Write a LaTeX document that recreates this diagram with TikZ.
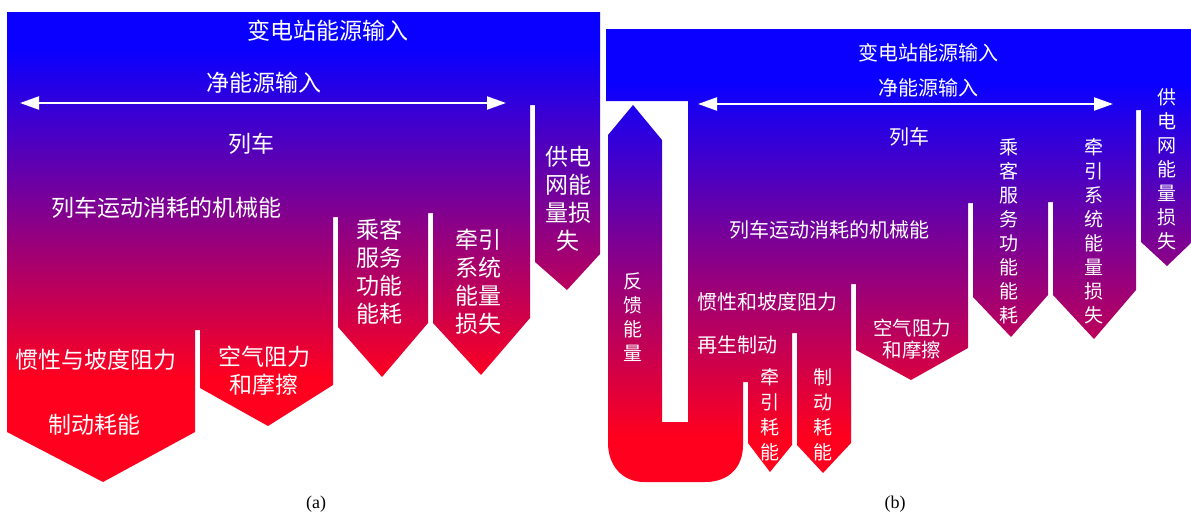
\documentclass[tikz,border=0pt]{standalone}
\usepackage{fontspec}
\setmainfont{Liberation Serif}
\newfontfamily\cjk{Noto Sans CJK SC}
\usetikzlibrary{arrows.meta}
\definecolor{sblue}{RGB}{10,0,255}
\definecolor{spurple}{RGB}{128,0,145}
\definecolor{sred}{RGB}{255,0,30}
\pgfdeclareverticalshading{sankeyA}{100bp}{color(0bp)=(sred); color(36bp)=(sred); color(54bp)=(spurple); color(71bp)=(sblue); color(100bp)=(sblue)}
\pgfdeclareverticalshading{sankeyB}{100bp}{color(0bp)=(sred); color(30bp)=(sred); color(51bp)=(spurple); color(69bp)=(sblue); color(100bp)=(sblue)}
\begin{document}
\begin{tikzpicture}[x=1pt,y=-1pt,
  lblA/.style={text=white, font=\cjk\fontsize{23}{28}\selectfont, align=center, inner sep=0pt},
  lblB/.style={text=white, font=\cjk\fontsize{20}{24}\selectfont, align=center, inner sep=0pt},
  vlbl/.style={text=white, font=\cjk\fontsize{19}{24}\selectfont, align=center, inner sep=0pt},
  vlblw/.style={text=white, font=\cjk\fontsize{19}{25}\selectfont, align=center, inner sep=0pt},
  netarrow/.style={white, line width=2pt, {Triangle[length=19pt,width=13pt]}-{Triangle[length=19pt,width=13pt]}},
  subcap/.style={font=\fontsize{18}{20}\selectfont, inner sep=0pt}]
\useasboundingbox (0,0) rectangle (1191,514);

% ---------- panel (a) ----------
\shade[shading=sankeyA] (7,12) -- (600,12) -- (600,254) -- (567,290) -- (535,262) -- (535,105) -- (530,105)
  -- (530,318) -- (481,375) -- (433,323) -- (433,213) -- (428,213)
  -- (428,323) -- (382,377) -- (338,327) -- (338,217) -- (333,217)
  -- (333,385) -- (268,426) -- (200,388) -- (200,330) -- (195,330)
  -- (195,432) -- (103,482) -- (7,432) -- cycle;

\coordinate (aL) at (20,103);
\coordinate (aR) at (506,103);
\draw[netarrow] (aL) -- (aR);

\node[lblA] (aTitle) at (328,31) {变电站能源输入};
\node[lblA] (aNet) at (264,83) {净能源输入};
\node[lblA] (aTrain) at (251,144) {列车};
\node[lblA] (aMech) at (166,208) {列车运动消耗的机械能};
\node[lblA] (aGrid) at (568,199) {供电\\网能\\量损\\失};
\node[lblA] (aTrac) at (478,282) {牵引\\系统\\能量\\损失};
\node[lblA] (aPass) at (379,272) {乘客\\服务\\功能\\能耗};
\node[lblA] (aAir) at (264,371) {空气阻力\\和摩擦};
\node[lblA] (aInert) at (96,360) {惯性与坡度阻力};
\node[lblA] (aBrake) at (94,425) {制动耗能};
\node[subcap] (aCap) at (316,504) {(a)};

% ---------- panel (b) ----------
\shade[shading=sankeyB] (606,29) -- (1191,29) -- (1191,243) -- (1167,266) -- (1141,242) -- (1141,110) -- (1136,110)
  -- (1136,290) -- (1094,339) -- (1053,295) -- (1053,202) -- (1048,202)
  -- (1048,295) -- (1011,337) -- (973,297) -- (973,203) -- (968,203)
  -- (968,348) -- (911,380) -- (856,350) -- (856,284) -- (851,284)
  -- (851,443) -- (823,473) -- (797,445) -- (797,333) -- (792,333)
  -- (792,445) -- (770,472) -- (748,443) -- (748,382) -- (743,382)
  -- (743,445) .. controls (743,468) and (728,482) .. (705,482)
  -- (644,482) .. controls (622,482) and (608,465) .. (608,443)
  -- (608,135) -- (633,105) -- (662,140) -- (662,422) -- (688,422)
  -- (688,101) -- (606,101) -- cycle;

\coordinate (bL) at (698,104);
\coordinate (bR) at (1113,104);
\draw[netarrow] (bL) -- (bR);

\node[lblB] (bTitle) at (928,53) {变电站能源输入};
\node[lblB] (bNet) at (928,88) {净能源输入};
\node[lblB] (bTrain) at (909,137) {列车};
\node[lblB] (bMech) at (829,230) {列车运动消耗的机械能};
\node[lblB] (bInert) at (767,302) {惯性和坡度阻力};
\node[lblB] (bRegen) at (737,345) {再生制动};
\node[vlbl] (bFeed) at (633,317) {反\\馈\\能\\量};
\node[vlblw] (bTracE) at (770,415) {牵\\引\\耗\\能};
\node[vlblw] (bBrake) at (823,415) {制\\动\\耗\\能};
\node[text=white, font=\cjk\fontsize{19.5}{22}\selectfont, align=center, inner sep=0pt] (bAir) at (912,339) {空气阻力\\和摩擦};
\node[vlbl] (bPass) at (1009,231) {乘\\客\\服\\务\\功\\能\\能\\耗};
\node[vlbl] (bTracL) at (1094,231) {牵\\引\\系\\统\\能\\量\\损\\失};
\node[vlbl] (bGrid) at (1167,169) {供\\电\\网\\能\\量\\损\\失};
\node[subcap] (bCap) at (895,504) {(b)};
\end{tikzpicture}
\end{document}
